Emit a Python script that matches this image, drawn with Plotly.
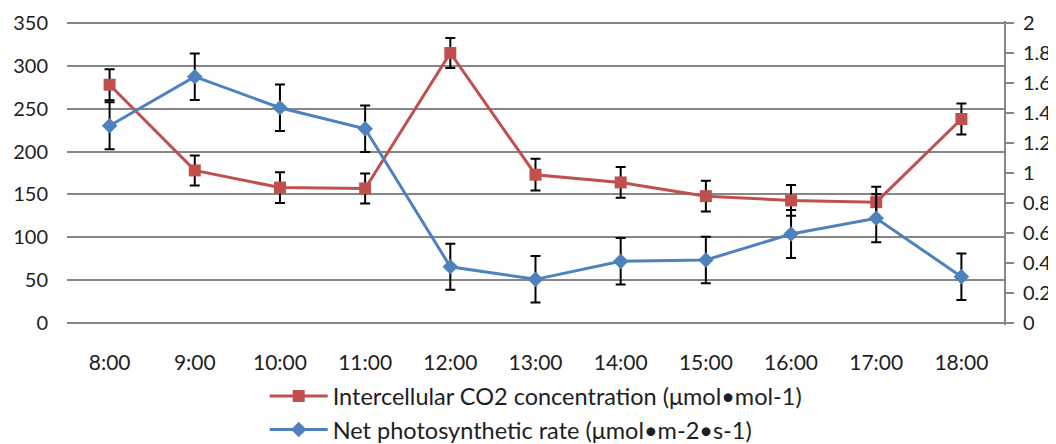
import plotly.graph_objects as go

times = ["8:00", "9:00", "10:00", "11:00", "12:00", "13:00", "14:00", "15:00", "16:00", "17:00", "18:00"]

co2 = [278, 178, 158, 157, 315, 173, 164, 148, 143, 141, 238]
co2_err = [18, 17.5, 18, 17.5, 17.5, 18.5, 18, 18, 18, 18, 18]

pn = [1.315, 1.642, 1.435, 1.295, 0.375, 0.291, 0.411, 0.42, 0.593, 0.698, 0.309]
pn_err = [0.157, 0.155, 0.155, 0.155, 0.153, 0.155, 0.155, 0.155, 0.16, 0.16, 0.155]

left_ticks = [0, 50, 100, 150, 200, 250, 300, 350]
right_ticks = [0, 0.2, 0.4, 0.6, 0.8, 1, 1.2, 1.4, 1.6, 1.8, 2]
right_labels = ["0", "0.2", "0.4", "0.6", "0.8", "1", "1.2", "1.4", "1.6", "1.8", "2"]

FONT = "Lato"
TXT = "#1e1e1e"
GRID = "#868686"

# small padding (2 px) so the gridlines at 0 and 350 are drawn
pad_l = 350 * 2 / 300
pad_r = 2 * 2 / 300

fig = go.Figure()
fig.add_trace(go.Scatter(
    x=times, y=co2, name="Intercellular CO2 concentration (μmol•mol-1)",
    mode="lines+markers",
    line=dict(color="#C0504D", width=3),
    marker=dict(symbol="square", size=12, color="#C0504D"),
    error_y=dict(type="data", array=co2_err, color="black", thickness=2, width=5),
    yaxis="y",
))
fig.add_trace(go.Scatter(
    x=times, y=pn, name="Net photosynthetic rate (μmol•m-2•s-1)",
    mode="lines+markers",
    line=dict(color="#4F81BD", width=3),
    marker=dict(symbol="diamond", size=12, color="#4F81BD"),
    error_y=dict(type="data", array=pn_err, color="black", thickness=2, width=5),
    yaxis="y2",
))

# page body has an 8px margin: figure is 1048x436 so it ends at the window edge
fig.update_layout(
    width=1048, height=436,
    margin=dict(l=59, r=52, t=13, b=119, autoexpand=False),
    paper_bgcolor="white", plot_bgcolor="white",
    font=dict(family=FONT, size=20, color=TXT),
    showlegend=True,
    legend=dict(orientation="v", x=0.211, xanchor="left", y=-0.162, yanchor="top",
                font=dict(family=FONT, size=23.5, color=TXT), tracegroupgap=0,
                itemwidth=58, bgcolor="rgba(0,0,0,0)"),
    xaxis=dict(type="category", range=[-0.5, 10.5], showgrid=False, showline=False,
               ticks="", automargin=False,
               tickfont=dict(family=FONT, size=21, color=TXT), ticklabelstandoff=23),
    yaxis=dict(range=[-pad_l, 350 + pad_l], tickvals=left_ticks, showgrid=True,
               gridcolor=GRID, gridwidth=2, zeroline=False, showline=False, ticks="",
               automargin=False,
               tickfont=dict(family=FONT, size=20, color=TXT), ticklabelstandoff=18),
    yaxis2=dict(range=[-pad_r, 2 + pad_r], tickvals=right_ticks, ticktext=right_labels,
                overlaying="y", side="right", showgrid=False, zeroline=False,
                showline=True, automargin=False,
                linecolor=GRID, linewidth=2, ticks="outside", ticklen=8,
                tickcolor=GRID, tickwidth=2,
                tickfont=dict(family=FONT, size=20, color=TXT), ticklabelstandoff=5),
)

fig.write_html("out.html")
